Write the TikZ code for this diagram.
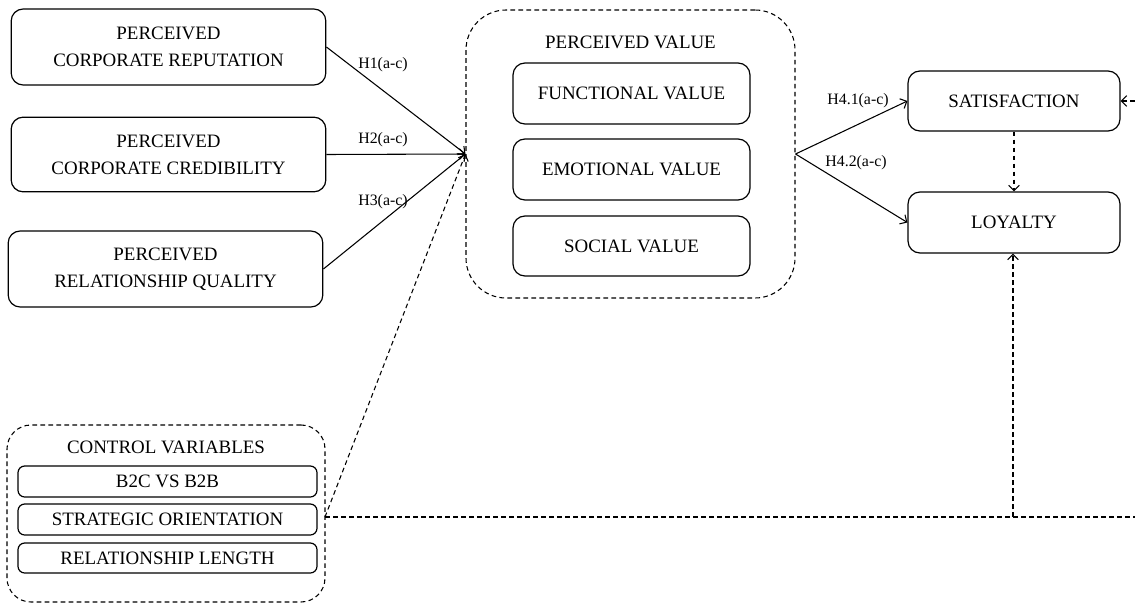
\documentclass[tikz,border=0pt]{standalone}
\usepackage{fontspec}
\setmainfont{Liberation Serif}
\usetikzlibrary{arrows.meta}
\tikzset{
  x=0.75pt, y=-0.75pt,
  boxtext/.style={font=\fontsize{14.2}{20}\selectfont},
  solidbox/.style={draw, line width=0.9pt, rounded corners=9pt, inner sep=0pt, align=center, boxtext},
  groupbox/.style={draw, line width=0.8pt, dash pattern=on 3.5pt off 2.5pt, inner sep=0pt},
  lbl/.style={font=\fontsize{11.9}{14}\selectfont, inner sep=0pt},
  arr/.style={line width=0.8pt, -{Straight Barb[length=4pt,width=8pt]}},
  darr/.style={line width=0.8pt, dash pattern=on 3.5pt off 2.5pt, -{Straight Barb[length=4pt,width=8pt]}},
  dline/.style={line width=0.8pt, dash pattern=on 3.5pt off 2.5pt},
}
\begin{document}
\begin{tikzpicture}
\useasboundingbox (0,0) rectangle (1135,603);
% left boxes
\node[solidbox, minimum width=236pt, minimum height=57pt] (REP) at (168.5,47) {PERCEIVED\\CORPORATE REPUTATION};
\node[solidbox, minimum width=236pt, minimum height=56pt] (CRED) at (168.5,154.5) {PERCEIVED\\CORPORATE CREDIBILITY};
\node[solidbox, minimum width=236pt, minimum height=57pt] (RQ) at (165.5,269) {PERCEIVED\\RELATIONSHIP QUALITY};
% perceived value group
\node[groupbox, rounded corners=30pt, minimum width=246.75pt, minimum height=216pt] (PV) at (630.5,154) {};
\node[boxtext, inner sep=0pt] (PVT) at (630.5,42) {PERCEIVED VALUE};
\node[solidbox, minimum width=177.75pt, minimum height=45.75pt] (FUN) at (631.5,93.5) {FUNCTIONAL VALUE};
\node[solidbox, minimum width=177.75pt, minimum height=45.75pt] (EMO) at (631.5,169.5) {EMOTIONAL VALUE};
\node[solidbox, minimum width=177.75pt, minimum height=45pt] (SOC) at (631.5,246) {SOCIAL VALUE};
% outcomes
\node[solidbox, minimum width=159pt, minimum height=45pt] (SAT) at (1014,101) {SATISFACTION};
\node[solidbox, minimum width=159pt, minimum height=45.75pt] (LOY) at (1014,222.5) {LOYALTY};
% control variables group
\node[groupbox, rounded corners=18pt, minimum width=238.5pt, minimum height=132.75pt] (CTL) at (166,513.5) {};
\node[boxtext, inner sep=0pt] (CTLT) at (166,447) {CONTROL VARIABLES};
\node[solidbox, rounded corners=5pt, minimum width=224.25pt, minimum height=23.25pt] (B2C) at (167.5,481.5) {B2C VS B2B};
\node[solidbox, rounded corners=5pt, minimum width=224.25pt, minimum height=23.25pt] (STRAT) at (167.5,519.5) {STRATEGIC ORIENTATION};
\node[solidbox, rounded corners=5pt, minimum width=224.25pt, minimum height=22.5pt] (LEN) at (167.5,558) {RELATIONSHIP LENGTH};
% connectors
\draw[arr] (REP.east) -- (PV.west);
\draw[arr] (CRED.east) -- (PV.west);
\draw[arr] (RQ.east) -- (PV.west);
\node[lbl] (H1) at (383,65) {H1(a-c)};
\node[lbl] (H2) at (383,140) {H2(a-c)};
\node[lbl] (H3) at (383,202) {H3(a-c)};
\draw[arr] (PV.east) -- (SAT.west);
\draw[arr] (PV.east) -- (LOY.west);
\node[lbl] (H41) at (858,101) {H4.1(a-c)};
\node[lbl] (H42) at (856,163) {H4.2(a-c)};
\draw[darr] (SAT.south) -- (LOY.south |- LOY.north);
% control links
\coordinate (JN) at (325,517);
\coordinate (RB) at (1135,517);
\coordinate (RT) at (1135,101);
\coordinate (BR) at (1013,517);
\draw[dline] (JN) -- (RB);
\draw[darr] (JN) -- (PV.west);
\draw[darr] (BR) -- (BR |- LOY.south);
\draw[darr] (RT) -- (SAT.east);
\end{tikzpicture}
\end{document}
